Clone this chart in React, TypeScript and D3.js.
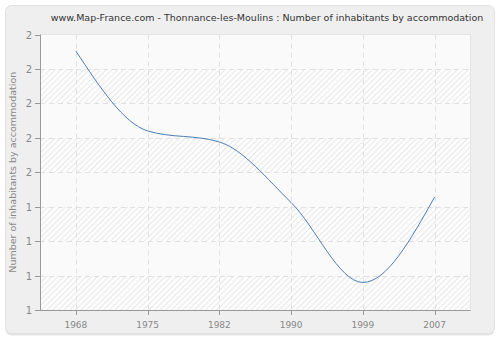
import React from "react";
import * as d3 from "d3";

const years: string[] = ["1968", "1975", "1982", "1990", "1999", "2007"];
const values: number[] = [1.94, 1.65, 1.61, 1.39, 1.1, 1.41];
const yTicks: number[] = [1, 1.125, 1.25, 1.375, 1.5, 1.625, 1.75, 1.875, 2];
const yTickLabels: string[] = ["1", "1", "1", "1", "2", "2", "2", "2", "2"];
const title = "www.Map-France.com - Thonnance-les-Moulins : Number of inhabitants by accommodation";
const yTitle = "Number of inhabitants by accommodation";

export default function App() {
  const W = 500, H = 340;
  const left = 40, right = 470.5, top = 34.5, bottom = 310;
  const x = d3.scaleBand<string>().domain(years).range([left, right]);
  const cx = (d: string) => (x(d) as number) + x.bandwidth() / 2;
  const y = d3.scaleLinear().domain([1, 2]).range([bottom, top]);
  const line = d3
    .line<number>()
    .x((_, i) => cx(years[i]))
    .y((d) => y(d))
    .curve(d3.curveMonotoneX);
  const font = "DejaVu Sans, Verdana, sans-serif";
  const bands = yTicks.slice(0, -1).map((t, i) => ({ a: t, b: yTicks[i + 1], i }));
  return (
    <svg width={W} height={H} style={{ position: "absolute", left: 0, top: 0 }}>
      <defs>
        <pattern id="hatch" width="4" height="4" patternUnits="userSpaceOnUse" patternTransform="rotate(45)">
          <rect width="4" height="4" fill="#fdfdfd" />
          <line x1="0.5" y1="0" x2="0.5" y2="4" stroke="#e8e8e8" strokeWidth="1" />
        </pattern>
      </defs>
      <rect x={0} y={0} width={W} height={H} fill="#ffffff" />
      <rect x={5.5} y={6.5} width={489} height={329} rx={6} fill="#e4e4e4" />
      <rect x={5.5} y={5.5} width={489} height={328} rx={6} fill="#efefef" stroke="#e2e2e2" />
      <text x={267} y={21} textAnchor="middle" fontFamily={font} fontSize={9.5} fill="#333">
        {title}
      </text>
      <rect x={left} y={top} width={right - left} height={bottom - top} fill="#fafafa" />
      {bands.map((b) =>
        (7 - b.i) % 2 === 1 ? (
          <rect key={b.i} x={left} y={y(b.b)} width={right - left} height={y(b.a) - y(b.b)} fill="url(#hatch)" />
        ) : null
      )}
      {yTicks.slice(1, -1).map((t, i) => (
        <line key={"g" + i} x1={left} x2={right} y1={Math.round(y(t)) + 0.5} y2={Math.round(y(t)) + 0.5}
          stroke="#e0e0e0" strokeDasharray="5,4" />
      ))}
      {years.map((yr) => (
        <line key={"v" + yr} x1={Math.round(cx(yr)) + 0.5} x2={Math.round(cx(yr)) + 0.5} y1={top} y2={bottom}
          stroke="#e0e0e0" strokeDasharray="5,4" />
      ))}
      <line x1={right} x2={right} y1={top} y2={bottom} stroke="#e4e4e4" />
      <line x1={left} x2={right} y1={top} y2={top} stroke="#e4e4e4" />
      <path d={line(values) || ""} fill="none" stroke="#4d7db5" strokeWidth={1} />
      <line x1={left + 0.5} x2={left + 0.5} y1={top} y2={bottom} stroke="#999" />
      <line x1={left} x2={right} y1={bottom + 0.5} y2={bottom + 0.5} stroke="#999" />
      {yTicks.map((t, i) => (
        <g key={"yt" + i}>
          <line x1={35} x2={left} y1={Math.round(y(t)) + 0.5} y2={Math.round(y(t)) + 0.5} stroke="#999" />
          <text x={32} y={y(t) + 4} textAnchor="end" fontFamily={font} fontSize={10} fill="#888">
            {yTickLabels[i]}
          </text>
        </g>
      ))}
      {years.map((yr) => (
        <g key={"xt" + yr}>
          <line x1={Math.round(cx(yr)) + 0.5} x2={Math.round(cx(yr)) + 0.5} y1={bottom} y2={bottom + 5} stroke="#999" />
          <text x={cx(yr)} y={328} textAnchor="middle" fontFamily={font} fontSize={9} fill="#888">
            {yr}
          </text>
        </g>
      ))}
      <text transform={`translate(16,${(top + bottom) / 2}) rotate(-90)`} textAnchor="middle"
        fontFamily={font} fontSize={9.5} fill="#888">
        {yTitle}
      </text>
    </svg>
  );
}
